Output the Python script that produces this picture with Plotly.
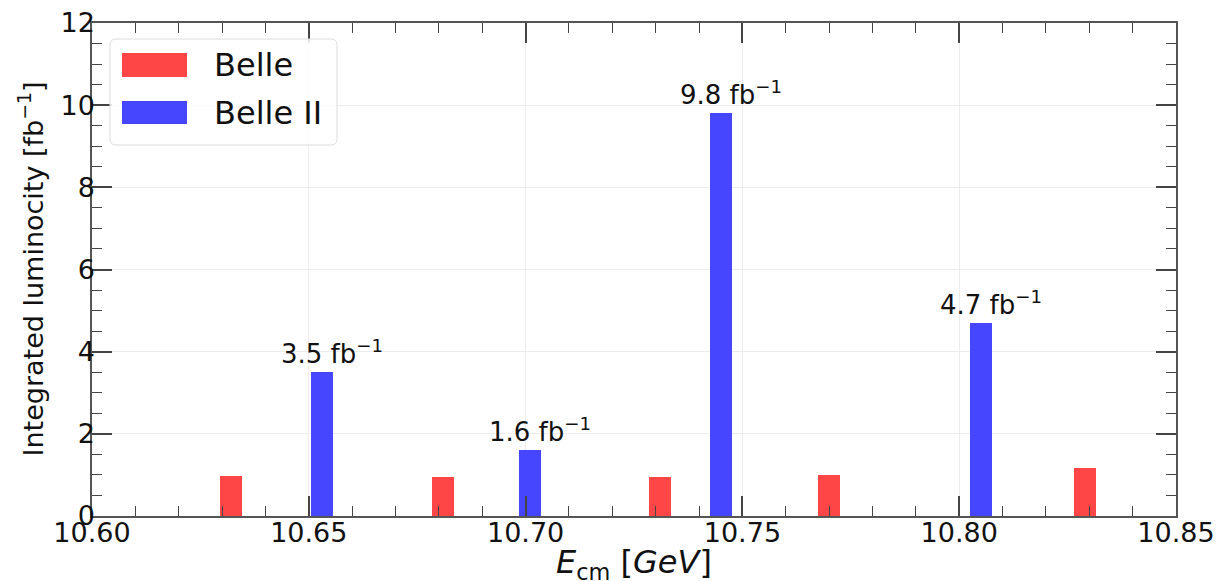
import plotly.graph_objects as go

# Centre-of-mass energies [GeV] and integrated luminosities [fb^-1]
belle_ecm = [10.632, 10.681, 10.731, 10.770, 10.829]
belle_lumi = [0.98, 0.94, 0.94, 1.01, 1.17]
belle2_ecm = [10.653, 10.701, 10.745, 10.805]
belle2_lumi = [3.5, 1.6, 9.8, 4.7]

x_ticks = [10.60, 10.65, 10.70, 10.75, 10.80, 10.85]
y_ticks = [0, 2, 4, 6, 8, 10, 12]

RED = "rgba(255,64,64,0.97)"
BLUE = "rgba(64,64,255,0.97)"
BAR_WIDTH = 0.005
FONT = "DejaVu Sans"

W, H = 1217, 581
ML, MR, MT, MB = 92, 41, 23, 65
PW, PH = W - ML - MR, H - MT - MB


def px_x(px):
    return (px - ML) / PW


def px_y(py):
    return (H - MB - py) / PH


fig = go.Figure()
fig.add_trace(go.Bar(x=belle_ecm, y=belle_lumi, width=BAR_WIDTH, name="Belle",
                     marker=dict(color=RED, line=dict(width=0))))
fig.add_trace(go.Bar(x=belle2_ecm, y=belle2_lumi, width=BAR_WIDTH, name="Belle II",
                     marker=dict(color=BLUE, line=dict(width=0))))

# Value labels above the Belle II points
for xv, yv in zip(belle2_ecm, belle2_lumi):
    fig.add_annotation(x=xv, y=yv, text=f"{yv:.1f} fb<sup>−1</sup>", showarrow=False,
                       xanchor="center", yanchor="bottom", xshift=10, yshift=1,
                       font=dict(family=FONT, size=26, color="#111"))

# Legend box with wide colour patches
shapes = []
x0, x1, y0, y1, r = px_x(110), px_x(337), px_y(145), px_y(39), 6
rx, ry = r / PW, r / PH
path = (f"M {x0+rx},{y0} L {x1-rx},{y0} Q {x1},{y0} {x1},{y0+ry} "
        f"L {x1},{y1-ry} Q {x1},{y1} {x1-rx},{y1} L {x0+rx},{y1} "
        f"Q {x0},{y1} {x0},{y1-ry} L {x0},{y0+ry} Q {x0},{y0} {x0+rx},{y0} Z")
shapes.append(dict(type="path", xref="paper", yref="paper", path=path,
                   fillcolor="rgba(255,255,255,0.85)", line=dict(color="#dcdcdc", width=1)))
for (label, color, top, bot) in [("Belle", RED, 53, 77), ("Belle II", BLUE, 101, 124)]:
    shapes.append(dict(type="rect", xref="paper", yref="paper",
                       x0=px_x(122), x1=px_x(187), y0=px_y(bot), y1=px_y(top),
                       fillcolor=color, line=dict(width=0)))
    fig.add_annotation(xref="paper", yref="paper", x=px_x(212), y=px_y((top + bot) / 2),
                       text=label, showarrow=False, xanchor="left", yanchor="middle",
                       font=dict(family=FONT, size=32, color="#111"))

# Axis titles
fig.add_annotation(xref="paper", yref="paper", x=0.5, y=px_y(541),
                   text="<i>E</i><sub>cm</sub> [<i>GeV</i>]", showarrow=False,
                   xanchor="center", yanchor="top",
                   font=dict(family=FONT, size=32, color="#111"))
fig.add_annotation(xref="paper", yref="paper", x=px_x(31), y=0.5,
                   text="Integrated luminocity [fb<sup>−1</sup>]", showarrow=False,
                   textangle=-90, xanchor="center", yanchor="middle",
                   font=dict(family=FONT, size=27, color="#111"))

axis_common = dict(
    showline=True, linecolor="#555", linewidth=1.5, mirror="ticks",
    ticks="inside", ticklen=20, tickwidth=1.5, tickcolor="#444",
    showgrid=True, gridcolor="#ececec", gridwidth=1, zeroline=False,
    tickfont=dict(family=FONT, size=27, color="#111"), automargin=False,
    ticklabelposition="outside",
)

fig.update_xaxes(
    **axis_common, range=[10.60, 10.85], tickvals=x_ticks,
    ticktext=[f"{v:.2f}" for v in x_ticks],
    minor=dict(ticks="inside", ticklen=10, tickwidth=1.3, tickcolor="#444",
               dtick=0.01, tick0=10.60, showgrid=False),
    ticklabelstandoff=-8,
)
fig.update_yaxes(
    **axis_common, range=[0, 12], tickvals=y_ticks,
    minor=dict(ticks="inside", ticklen=10, tickwidth=1.3, tickcolor="#444",
               dtick=0.5, tick0=0, showgrid=False),
    ticklabelstandoff=-10,
)

fig.update_layout(
    width=W, height=H, margin=dict(l=ML, r=MR, t=MT, b=MB),
    barmode="overlay", showlegend=False, bargap=0,
    plot_bgcolor="white", paper_bgcolor="white",
    shapes=shapes, font=dict(family=FONT),
)

fig.write_html("out.html")
